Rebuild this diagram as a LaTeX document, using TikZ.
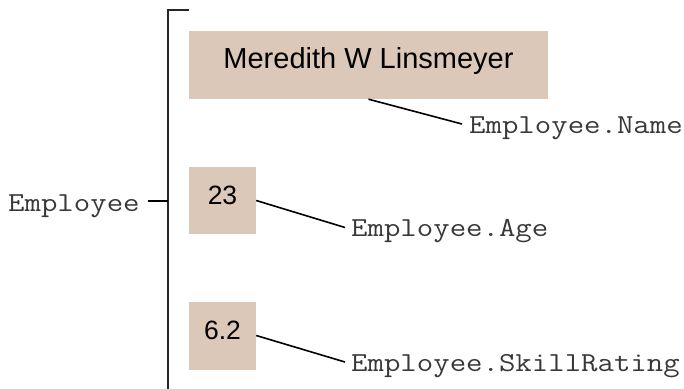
\documentclass[tikz,border=0pt]{standalone}
\usepackage{fontspec}
\setmainfont{Liberation Sans}
\setmonofont{Latin Modern Mono}[FakeStretch=1.16]
\usetikzlibrary{calc}
\definecolor{fieldfill}{HTML}{DBC8B8}
\definecolor{monogray}{HTML}{383838}
\tikzset{
  field/.style={rectangle, fill=fieldfill, inner sep=0pt, text=black,
    text height=0.716em, text depth=0pt},
  member/.style={anchor=base west, inner sep=0pt, text=monogray,
    font=\fontsize{27.5bp}{30bp}\selectfont\ttfamily},
  leader/.style={draw=black, line width=1.6bp},
  brace/.style={draw=black!85, line width=2bp}
}
\begin{document}
\begin{tikzpicture}[x=1bp, y=-1bp]
  \useasboundingbox (0,0) rectangle (684,388);

  % record fields
  \node[field, minimum width=359bp, minimum height=68bp,
        font=\fontsize{29bp}{32bp}\selectfont] (name) at (368.5,65) {Meredith W Linsmeyer};
  \node[field, minimum width=67bp, minimum height=67bp,
        font=\fontsize{26.5bp}{30bp}\selectfont] (age) at (222.5,200.5) {23};
  \node[field, minimum width=67bp, minimum height=68bp,
        font=\fontsize{26.5bp}{30bp}\selectfont] (skill) at (222.5,335.5) {6.2};

  % member labels
  \node[member] (namelbl) at (469,133) {Employee.Name};
  \node[member] (agelbl) at (351,236.5) {Employee.Age};
  \node[member] (skilllbl) at (351,371) {Employee.SkillRating};

  % record name and bracket
  \node[member] (emp) at (8,211.5) {Employee};
  \coordinate (tickstart) at (148,201);
  \coordinate (tickend) at (168,201);
  \coordinate (bracetop) at (168,10);
  \coordinate (bracebottom) at (168,392);
  \coordinate (bracehook) at (189,10);
  \draw[brace] (bracehook) -- (bracetop) -- (bracebottom);
  \draw[leader] (tickstart) -- (tickend);

  % leaders from fields to member names
  \draw[leader] (name.south) -- ($(namelbl.base west)+(-7,-9)$);
  \draw[leader] (age.east) -- ($(agelbl.base west)+(-6,-9)$);
  \draw[leader] (skill.east) -- ($(skilllbl.base west)+(-6,-9)$);
\end{tikzpicture}
\end{document}
